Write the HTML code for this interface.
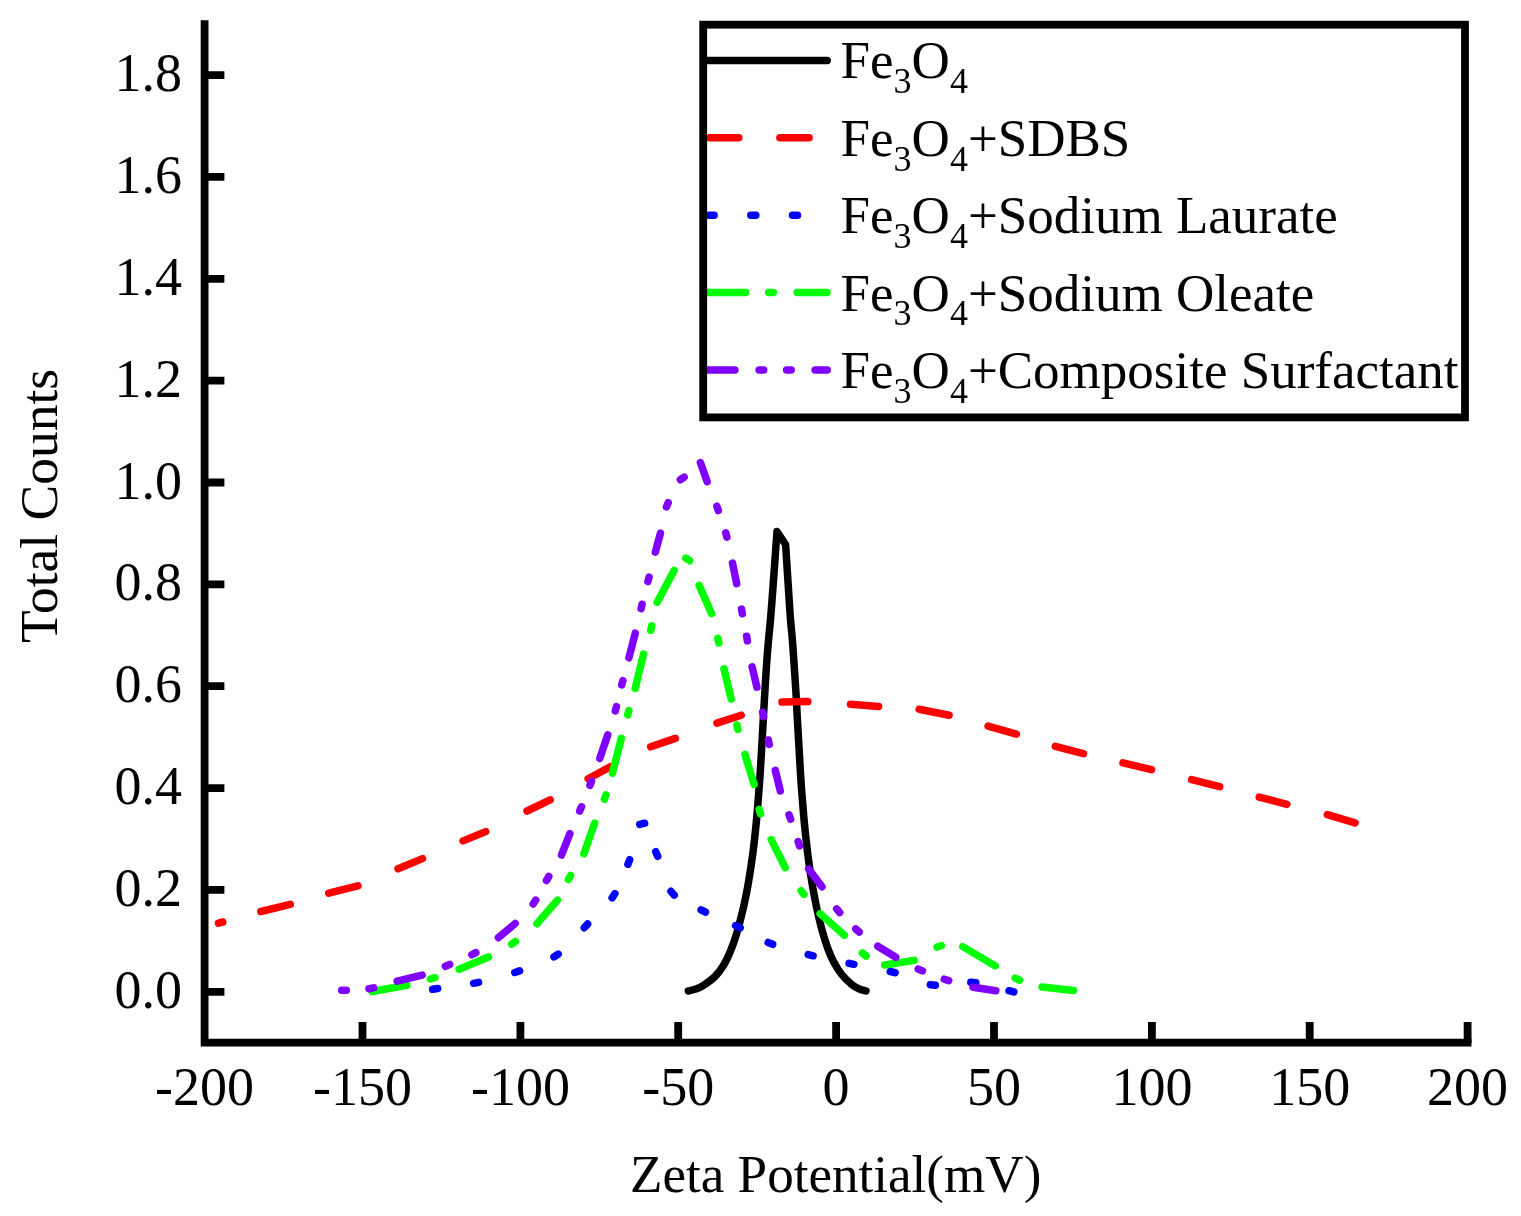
<!DOCTYPE html>
<html><head><meta charset="utf-8"><title>Zeta Potential</title>
<style>html,body{margin:0;padding:0;background:#fff;}svg{display:block;}</style></head><body>
<svg width="1521" height="1216" viewBox="0 0 1521 1216" font-family='"Liberation Serif", "Times New Roman", serif'>
<rect width="1521" height="1216" fill="#fff"/>
<g fill="none" stroke-width="7.5" stroke-linecap="round" stroke-linejoin="round">
<path stroke="#000" d="M688.4 990.9C689.6 990.6 693.3 989.9 695.8 989.0C698.3 988.1 700.3 987.4 703.5 985.3C706.7 983.2 711.6 979.9 715.0 976.5C718.4 973.1 721.3 969.0 723.9 964.7C726.5 960.4 728.6 955.6 730.6 950.8C732.6 945.9 734.4 940.8 736.0 935.6C737.6 930.4 739.1 925.0 740.5 919.5C741.9 914.0 743.3 908.4 744.5 902.8C745.7 897.1 746.9 891.4 747.9 885.6C748.9 879.8 749.9 873.8 750.8 867.8C751.7 861.8 752.5 855.8 753.3 849.7C754.1 843.6 754.8 837.4 755.4 831.2C756.0 825.0 756.7 818.7 757.2 812.4C757.8 806.1 758.2 799.7 758.7 793.3C759.2 786.9 759.7 780.5 760.1 774.0C760.5 767.5 760.9 761.1 761.3 754.6C761.7 748.1 762.0 741.6 762.4 735.1C762.8 728.6 763.1 722.0 763.5 715.5C763.9 709.0 764.2 702.5 764.6 696.0C765.0 689.5 765.4 683.1 765.8 676.6C766.2 670.1 766.6 663.7 767.1 657.3C767.6 650.9 768.1 644.5 768.7 638.2C769.3 631.9 770.0 625.7 770.5 619.4C771.0 613.1 770.9 615.1 772.0 600.5C773.1 585.9 776.2 543.1 777.0 531.6L785.6 544.5C786.2 553.8 788.4 588.0 789.2 600.5C790.0 613.0 790.0 613.1 790.5 619.4C791.0 625.6 791.7 631.8 792.2 638.0C792.7 644.2 793.2 650.6 793.6 656.9C794.0 663.2 794.5 669.5 794.9 675.9C795.3 682.3 795.7 688.7 796.1 695.1C796.5 701.5 796.8 707.9 797.1 714.3C797.5 720.7 797.8 727.2 798.2 733.6C798.6 740.0 798.9 746.4 799.3 752.8C799.7 759.2 800.0 765.6 800.4 772.0C800.8 778.4 801.2 784.7 801.7 791.0C802.2 797.3 802.7 803.6 803.2 809.9C803.7 816.1 804.3 822.4 804.9 828.5C805.5 834.6 806.2 840.8 806.9 846.8C807.6 852.8 808.4 858.9 809.2 864.8C810.0 870.7 810.9 876.6 811.9 882.4C812.9 888.2 813.9 894.0 815.0 899.6C816.1 905.2 817.3 910.8 818.6 916.3C819.9 921.8 821.2 927.2 822.7 932.5C824.2 937.8 825.8 943.0 827.6 947.9C829.4 952.8 831.4 957.7 833.7 962.1C836.1 966.5 838.7 970.8 841.7 974.5C844.7 978.2 849.0 982.2 851.9 984.6C854.8 987.0 857.0 988.0 859.4 989.0C861.8 990.0 864.9 990.6 866.0 990.9"/>
<path stroke="#ff0000" d="M218.5 923.1L222.8 922.0M260.9 911.5L290.3 904.4M328.8 893.1L357.9 885.9M398.0 868.8L422.5 858.6M463.0 840.9L485.7 831.6M527.0 811.0L550.2 799.8M588.1 778.7L610.7 766.6M650.6 746.8L675.4 738.4M716.9 723.1L741.2 715.2M782.0 702.1L807.8 701.6M850.5 704.3L878.6 706.4M919.2 709.2L949.0 715.2M988.1 726.1L1016.4 734.2M1055.3 746.3L1083.5 753.7M1123.0 762.9L1151.5 769.6M1191.6 779.6L1219.7 786.6M1259.2 797.1L1286.9 804.4M1327.3 814.6L1355.1 822.8"/>
<path stroke="#0000ff" d="M432.7 989.3L437.7 988.5M473.7 983.3L478.5 982.3M514.8 972.5L519.6 970.9M554.0 956.9L558.2 954.1M584.2 927.7L587.6 924.1M612.1 897.8L614.9 893.6M627.9 864.3L629.7 859.7M639.8 824.4L644.6 823.2M655.7 851.7L657.7 856.3M671.0 891.3L674.2 895.1M701.1 909.9L705.5 912.1M735.6 925.7L740.2 927.9M768.1 942.5L772.7 944.3M808.3 954.6L813.1 955.8M849.1 963.3L853.9 964.3M890.3 971.5L895.1 972.7M930.3 984.7L935.3 985.3M970.8 982.3L975.8 982.7M1009.0 990.7L1013.8 991.9"/>
<path stroke="#00ff00" d="M372.1 991.5L406.8 985.3M430.4 979.0L434.8 977.6M459.2 969.3L488.4 957.0M511.7 944.1L515.5 941.5M536.9 923.7L557.4 900.2M568.4 879.5L570.6 875.5M583.9 853.8L594.7 823.0M604.4 799.3L606.0 794.9M612.5 773.1L621.3 738.3M627.7 714.9L628.9 710.5M635.2 688.4L643.5 654.1M650.7 630.3L651.7 625.9M657.2 602.3L674.2 570.3M685.8 558.1L689.6 560.7M699.2 585.4L711.5 613.6M717.8 638.4L718.8 643.0M724.0 668.8L731.2 699.0M736.9 725.0L737.9 729.4M744.9 754.3L754.1 784.5M759.2 809.4L760.6 813.8M771.2 839.6L785.3 867.7M801.1 890.8L803.9 894.4M820.2 913.7L844.4 935.2M862.4 953.0L866.0 956.0M884.7 965.0L914.1 960.4M937.1 947.1L941.5 945.5M962.7 946.6L995.2 965.9M1015.2 978.1L1019.4 980.1M1042.1 987.0L1073.5 990.4"/>
<path stroke="#8000ff" d="M341.7 990.3L346.3 990.3M369.0 988.7L373.6 987.9M397.2 981.2L422.1 975.1M445.4 966.3L449.6 964.5M471.8 954.8L475.8 952.6M498.4 937.7L515.2 923.5M533.1 904.0L535.7 900.2M546.4 880.5L548.8 876.5M561.5 855.0L569.9 833.7M579.7 811.0L581.5 806.8M589.9 785.3L591.5 781.1M599.8 758.4L607.8 734.8M615.3 711.0L616.5 706.6M621.7 685.0L622.9 680.6M628.9 657.9L635.3 633.1M641.1 608.6L642.1 604.2M647.9 581.5L649.1 577.1M655.3 552.2L660.5 533.1M666.4 506.9L668.2 502.7M680.4 479.7L684.2 477.1M700.4 462.5L707.2 481.7M716.8 506.2L718.4 510.6M725.7 532.8L726.9 537.2M732.5 563.1L736.7 583.7M741.5 609.1L742.3 613.7M746.6 636.2L747.4 640.8M752.1 666.8L756.9 687.2M762.6 712.2L763.6 716.6M768.3 740.0L769.3 744.4M775.3 770.3L780.3 790.9M789.0 814.8L790.6 819.2M798.1 841.5L799.5 845.9M808.7 869.0L822.0 886.8M836.7 908.9L839.7 912.5M855.8 928.9L859.2 932.1M877.8 946.2L895.8 957.2M918.2 969.1L922.4 970.9M944.3 979.2L948.7 980.6M973.0 987.2L995.8 990.7"/>
</g>
<g stroke="#000" stroke-width="7.8" fill="none" stroke-linecap="square">
<path d="M204.6 24.1V1042.7H1467.6"/>
<path stroke-linecap="butt" d="M204.6 991.8H224.4M204.6 889.9H224.4M204.6 788.1H224.4M204.6 686.2H224.4M204.6 584.4H224.4M204.6 482.5H224.4M204.6 380.6H224.4M204.6 278.8H224.4M204.6 176.9H224.4M204.6 75.1H224.4M362.5 1042.7V1022.0M520.4 1042.7V1022.0M678.2 1042.7V1022.0M836.1 1042.7V1022.0M994.0 1042.7V1022.0M1151.9 1042.7V1022.0M1309.7 1042.7V1022.0M1467.6 1042.7V1022.0"/>
</g>
<g stroke="#000" stroke-width="7.8" fill="none">
</g>
<g font-size="54.0" fill="#000">
<text x="182" y="1007.8" text-anchor="end">0.0</text>
<text x="182" y="905.9" text-anchor="end">0.2</text>
<text x="182" y="804.1" text-anchor="end">0.4</text>
<text x="182" y="702.2" text-anchor="end">0.6</text>
<text x="182" y="600.4" text-anchor="end">0.8</text>
<text x="182" y="498.5" text-anchor="end">1.0</text>
<text x="182" y="396.6" text-anchor="end">1.2</text>
<text x="182" y="294.8" text-anchor="end">1.4</text>
<text x="182" y="192.9" text-anchor="end">1.6</text>
<text x="182" y="91.1" text-anchor="end">1.8</text>
<text x="204.6" y="1105" text-anchor="middle">-200</text>
<text x="362.5" y="1105" text-anchor="middle">-150</text>
<text x="520.4" y="1105" text-anchor="middle">-100</text>
<text x="678.2" y="1105" text-anchor="middle">-50</text>
<text x="836.1" y="1105" text-anchor="middle">0</text>
<text x="994.0" y="1105" text-anchor="middle">50</text>
<text x="1151.9" y="1105" text-anchor="middle">100</text>
<text x="1309.7" y="1105" text-anchor="middle">150</text>
<text x="1467.6" y="1105" text-anchor="middle">200</text>
</g>
<text x="835.7" y="1192" font-size="53.1" text-anchor="middle">Zeta Potential(mV)</text>
<text transform="translate(56.7,505.9) rotate(-90)" font-size="53.5" text-anchor="middle">Total Counts</text>
<g font-size="53.0" fill="#000">
<text x="840.6" y="78.4">Fe<tspan font-size="36" dy="14.7">3</tspan><tspan dy="-14.7">O</tspan><tspan font-size="36" dy="14.7">4</tspan></text>
<text x="840.6" y="155.8">Fe<tspan font-size="36" dy="14.7">3</tspan><tspan dy="-14.7">O</tspan><tspan font-size="36" dy="14.7">4</tspan><tspan dy="-14.7">+SDBS</tspan></text>
<text x="840.6" y="233.2">Fe<tspan font-size="36" dy="14.7">3</tspan><tspan dy="-14.7">O</tspan><tspan font-size="36" dy="14.7">4</tspan><tspan dy="-14.7">+Sodium Laurate</tspan></text>
<text x="840.6" y="310.6">Fe<tspan font-size="36" dy="14.7">3</tspan><tspan dy="-14.7">O</tspan><tspan font-size="36" dy="14.7">4</tspan><tspan dy="-14.7">+Sodium Oleate</tspan></text>
<text x="840.6" y="388.0">Fe<tspan font-size="36" dy="14.7">3</tspan><tspan dy="-14.7">O</tspan><tspan font-size="36" dy="14.7">4</tspan><tspan dy="-14.7">+Composite Surfactant</tspan></text>
</g>
<g fill="none" stroke-width="7.5" stroke-linecap="round">
<path stroke="#000" d="M706 60.4H827.2"/>
<path stroke="#ff0000" d="M709.5 137.8H738.8M779.9 137.8H809.1"/>
<path stroke="#0000ff" d="M709.1 215.2H714.1M750.8 215.2H755.8M792.5 215.2H797.5"/>
<path stroke="#00ff00" d="M706 292.6H745.7M768.7 292.6H773.3M797.2 292.6H826.9"/>
<path stroke="#8000ff" d="M706 370.0H734.9M759.1 370.0H763.7M786.6 370.0H791.2M815.1 370.0H827.2"/>
</g>
<rect x="703.2" y="24.7" width="761.8" height="392.7" fill="none" stroke="#000" stroke-width="7.8"/>
</svg>
</body></html>
